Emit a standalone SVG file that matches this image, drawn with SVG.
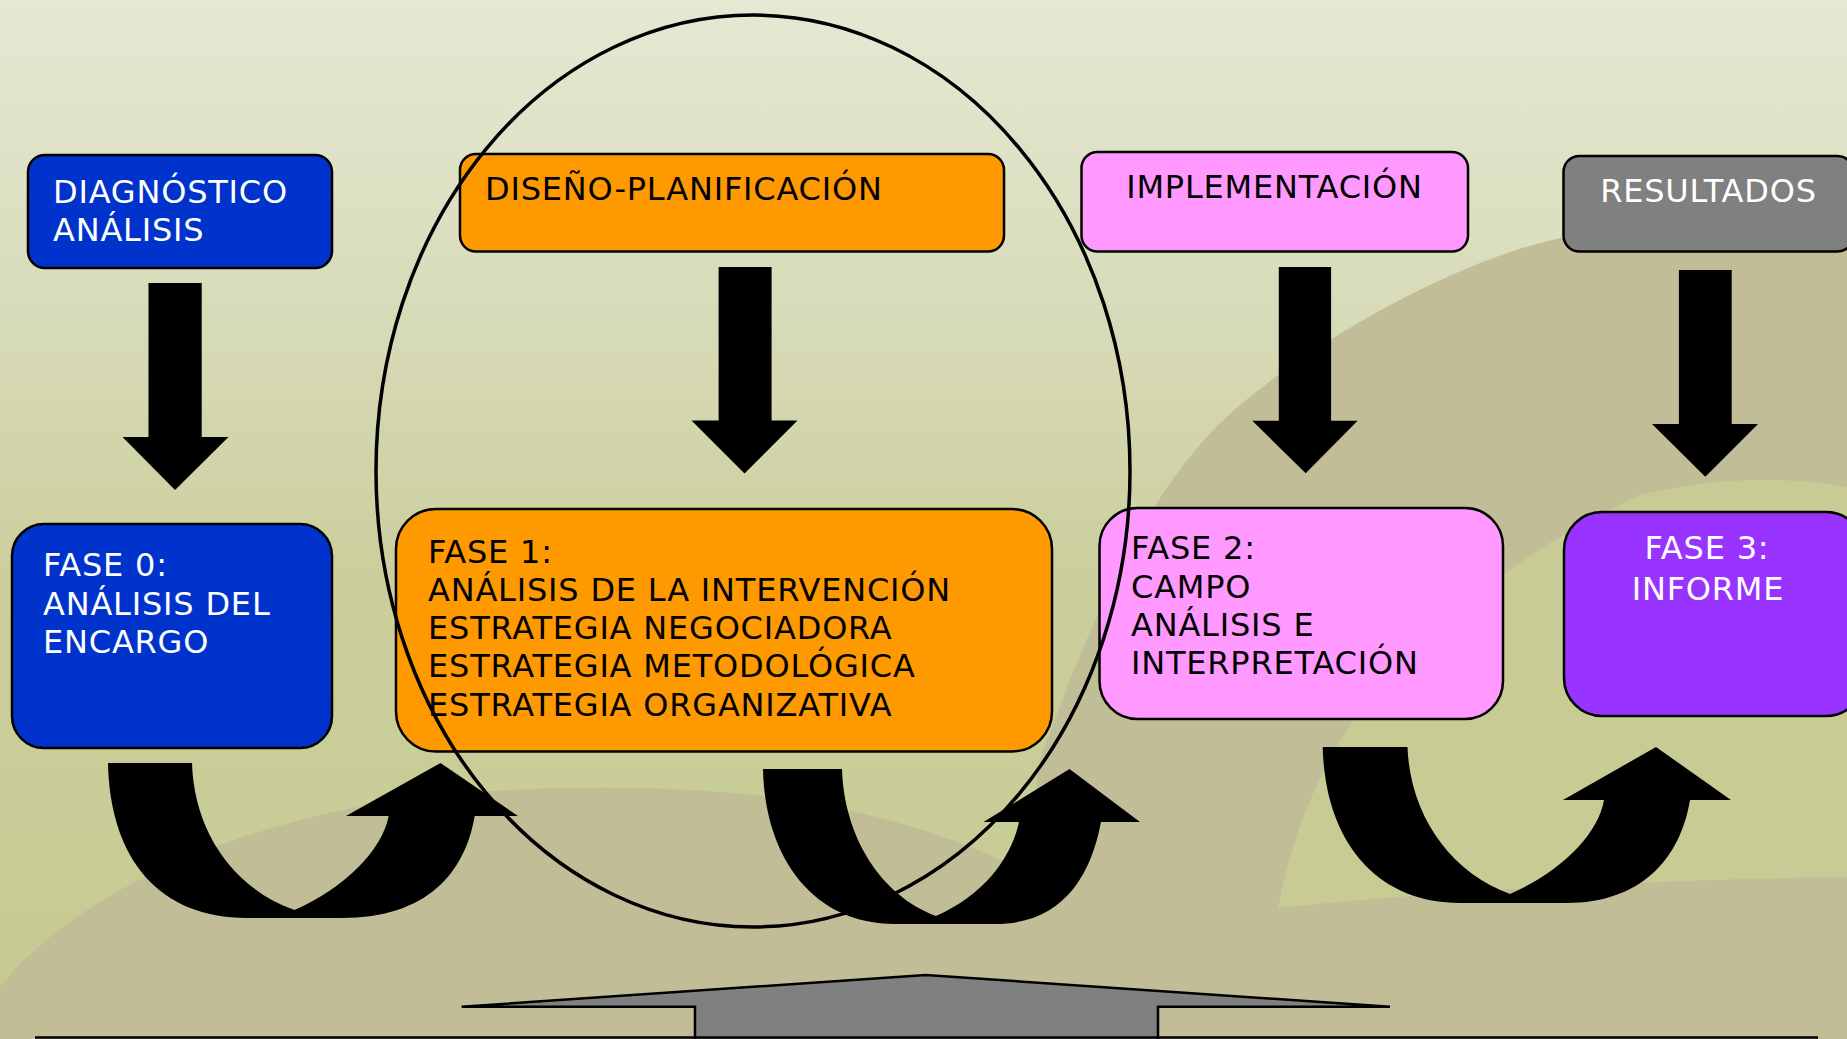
<svg xmlns="http://www.w3.org/2000/svg" width="1847" height="1039" viewBox="0 0 1847 1039">
<defs>
<linearGradient id="bg" x1="0" y1="0" x2="0" y2="1">
<stop offset="0" stop-color="#e6e8d3"/>
<stop offset="0.3" stop-color="#d8dbb9"/>
<stop offset="0.55" stop-color="#cbcf9d"/>
<stop offset="1" stop-color="#c6ca90"/>
</linearGradient>
<style>
.box{stroke:#000;stroke-width:2.5}
.t{font-family:"DejaVu Sans","Liberation Sans",sans-serif;font-size:32px;letter-spacing:0.8px}
.w{fill:#ffffff}
.k{fill:#000000}
.arr{fill:#000}
</style>
</defs>
<rect x="0" y="0" width="1847" height="1039" fill="url(#bg)"/>
<g id="background">
<path d="M1847,200 C1700,210 1600,225 1516,250 C1440,275 1330,330 1240,405 C1150,480 1090,620 1040,760 L1000,1039 L1847,1039 Z" fill="#c0bd97"/>
<path d="M0,987 C60,910 200,830 400,800 C520,785 650,783 772,797 C860,808 960,835 1040,880 L1040,1039 L0,1039 Z" fill="#c0bd97"/>
<path d="M1278,908 C1295,820 1330,740 1390,675 C1450,610 1530,545 1640,495 C1720,475 1800,478 1847,487 L1847,877 C1620,880 1420,893 1278,908 Z" fill="#c8cc94"/>
</g>
<g id="connectors">
<path class="arr" d="M148.5,283 L201.7,283 L201.7,437 L228.5,437 L175,490 L122.5,437 L148.5,437 Z"/>
<path class="arr" d="M718.6,267 L771.6,267 L771.6,420.5 L797.5,420.5 L744.5,473.6 L691.5,420.5 L718.6,420.5 Z"/>
<path class="arr" d="M1278.8,267 L1331.1,267 L1331.1,420.7 L1357.6,420.7 L1305.7,473.3 L1252.3,420.7 L1278.8,420.7 Z"/>
<path class="arr" d="M1678.9,270 L1731.7,270 L1731.7,424 L1758,424 L1705.3,476.7 L1652,424 L1678.9,424 Z"/>
<path class="arr" d="M108,763 L192,763 C194,830 232,888 294.5,910 C345,888 382,850 388.7,816 L346,816 L440.5,763 L518,816 L474.7,816 C465,872 428,918 341.6,918 L247,918 C160,918 110,860 108,763 Z"/>
<path class="arr" d="M763,769 L842,769 C844,836 880,895 936,916 C985,895 1012,856 1019,822 L983.5,822 L1069.5,769 L1140,822 L1101,822 C1090,880 1060,924 995,924 L895,924 C815,924 765,860 763,769 Z"/>
<path class="arr" d="M1322.7,747 L1407.5,747 C1410,815 1450,872 1510,894 C1560,872 1598,835 1604,800 L1563,800 L1656,747 L1731,800 L1690,800 C1680,860 1640,903 1566.5,903 L1460.5,903 C1375,903 1325,840 1322.7,747 Z"/>
<path d="M695,1040 L695,1006.7 L461.7,1006.7 L925.8,975 L1390,1006.7 L1158,1006.7 L1158,1040" fill="#808080" stroke="#000" stroke-width="2.5"/>
<line x1="35" y1="1037.5" x2="1818" y2="1037.5" stroke="#000" stroke-width="2.5"/>
</g>
<g id="diagnostico">
<rect class="box" x="28" y="155" width="304" height="113" rx="17" fill="#0033cc"/>
<text class="t w" x="53" y="203">DIAGNÓSTICO</text>
<text class="t w" x="53" y="241">ANÁLISIS</text>
</g>
<g id="diseno">
<rect class="box" x="460" y="154" width="544" height="97.5" rx="16" fill="#ff9900"/>
<text class="t k" x="485" y="200">DISEÑO-PLANIFICACIÓN</text>
</g>
<g id="implementacion">
<rect class="box" x="1081.5" y="152" width="386.5" height="99.5" rx="16" fill="#ff99ff"/>
<text class="t k" x="1274.5" y="198" text-anchor="middle">IMPLEMENTACIÓN</text>
</g>
<g id="resultados">
<rect class="box" x="1563.5" y="156" width="290" height="95.5" rx="16" fill="#808080"/>
<text class="t w" x="1708.5" y="202" text-anchor="middle">RESULTADOS</text>
</g>
<g id="fase0">
<rect class="box" x="12" y="524" width="320" height="224" rx="32" fill="#0033cc"/>
<text class="t w" x="43" y="576">FASE 0:</text>
<text class="t w" x="43" y="615">ANÁLISIS DEL</text>
<text class="t w" x="43" y="653">ENCARGO</text>
</g>
<g id="fase1">
<rect class="box" x="396" y="509" width="656" height="242.5" rx="40" fill="#ff9900"/>
<text class="t k" x="428" y="563">FASE 1:</text>
<text class="t k" x="428" y="601">ANÁLISIS DE LA INTERVENCIÓN</text>
<text class="t k" x="428" y="639">ESTRATEGIA NEGOCIADORA</text>
<text class="t k" x="428" y="677">ESTRATEGIA METODOLÓGICA</text>
<text class="t k" x="428" y="716">ESTRATEGIA ORGANIZATIVA</text>
</g>
<g id="fase2">
<rect class="box" x="1099.5" y="508" width="403.5" height="211" rx="38" fill="#ff99ff"/>
<text class="t k" x="1131" y="559">FASE 2:</text>
<text class="t k" x="1131" y="598">CAMPO</text>
<text class="t k" x="1131" y="636">ANÁLISIS E</text>
<text class="t k" x="1131" y="674">INTERPRETACIÓN</text>
</g>
<g id="fase3">
<rect class="box" x="1564" y="512" width="300" height="204" rx="38" fill="#9933ff"/>
<text class="t w" x="1707" y="559" text-anchor="middle">FASE 3:</text>
<text class="t w" x="1708" y="600" text-anchor="middle">INFORME</text>
</g>
<g id="ellipse">
<ellipse cx="753" cy="471" rx="377" ry="456" fill="none" stroke="#000" stroke-width="3.5"/>
</g>
</svg>
